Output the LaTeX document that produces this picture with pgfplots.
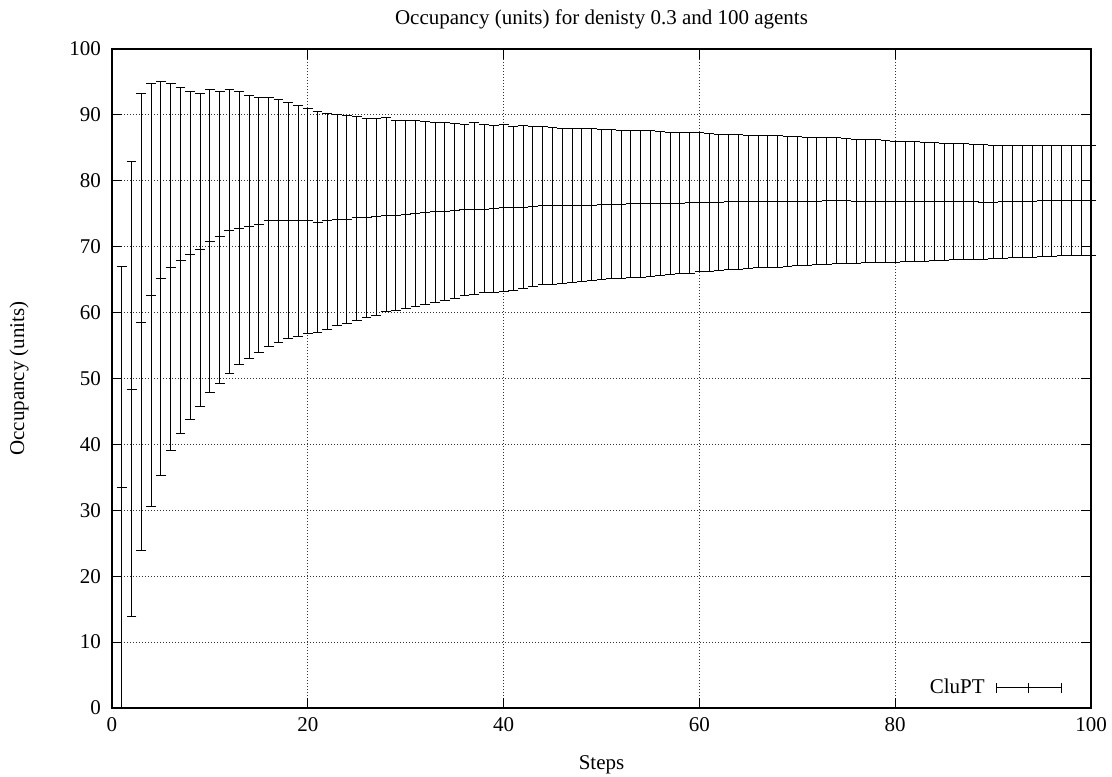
\documentclass[border=0pt]{standalone}
\usepackage{fontspec}
\setmainfont{Liberation Serif}
\usepackage{pgfplots}
\usepackage{pgfplotstable}
\pgfplotsset{compat=1.18}
\pgfplotstableread{
x m lo hi
1 33.5 0.0 67.0
2 48.4 13.9 82.9
3 58.5 23.9 93.2
4 62.6 30.6 94.7
5 65.2 35.3 95.0
6 66.9 39.0 94.7
7 67.9 41.7 94.2
8 68.8 43.8 93.6
9 69.5 45.8 93.2
10 70.8 47.9 93.8
11 71.5 49.3 93.6
12 72.4 50.8 93.8
13 72.7 52.1 93.5
14 73.1 53.0 93.0
15 73.4 53.9 92.7
16 74.0 54.9 92.7
17 74.0 55.4 92.3
18 74.0 56.0 91.9
19 74.0 56.4 91.5
20 74.0 56.8 91.0
21 73.7 57.0 90.45
22 73.9 57.5 90.2
23 74.1 58.0 90.0
24 74.2 58.4 89.9
25 74.4 58.8 89.8
26 74.5 59.2 89.5
27 74.6 59.6 89.4
28 74.8 60.1 89.6
29 74.8 60.3 89.2
30 74.9 60.6 89.1
31 75.0 61.0 89.2
32 75.2 61.3 89.0
33 75.3 61.5 88.9
34 75.4 61.8 88.8
35 75.5 62.2 88.7
36 75.6 62.6 88.6
37 75.6 62.8 88.8
38 75.7 63.0 88.5
39 75.8 63.1 88.4
40 75.9 63.2 88.5
41 75.9 63.4 88.3
42 76.0 63.6 88.4
43 76.1 63.9 88.3
44 76.2 64.2 88.2
45 76.2 64.3 88.1
46 76.2 64.4 88.0
47 76.3 64.5 88.0
48 76.3 64.7 87.9
49 76.3 64.8 87.9
50 76.4 65.0 87.8
51 76.4 65.1 87.8
52 76.4 65.2 87.7
53 76.5 65.3 87.7
54 76.5 65.4 87.6
55 76.5 65.5 87.6
56 76.6 65.7 87.5
57 76.6 65.8 87.4
58 76.6 65.9 87.4
59 76.7 66.0 87.3
60 76.7 66.2 87.3
61 76.7 66.3 87.2
62 76.7 66.4 87.1
63 76.8 66.5 87.0
64 76.8 66.6 87.0
65 76.8 66.7 86.9
66 76.9 66.8 86.9
67 76.8 66.8 86.8
68 76.8 66.9 86.8
69 76.9 67.0 86.7
70 76.9 67.1 86.7
71 76.9 67.2 86.6
72 76.9 67.3 86.6
73 77.0 67.3 86.5
74 77.0 67.4 86.5
75 77.0 67.5 86.4
76 76.9 67.5 86.3
77 76.9 67.6 86.3
78 76.9 67.6 86.2
79 76.9 67.6 86.1
80 76.9 67.6 86.0
81 76.9 67.7 85.9
82 76.9 67.8 85.9
83 76.9 67.8 85.8
84 76.9 67.9 85.8
85 76.9 67.9 85.7
86 76.9 68.0 85.6
87 76.8 68.0 85.6
88 76.8 68.0 85.5
89 76.7 68.1 85.5
90 76.7 68.2 85.4
91 76.8 68.2 85.4
92 76.8 68.3 85.4
93 76.9 68.4 85.4
94 76.9 68.4 85.4
95 77.0 68.5 85.4
96 77.0 68.5 85.3
97 77.0 68.6 85.3
98 77.0 68.6 85.3
99 77.0 68.7 85.3
100 77.0 68.7 85.3
}\datatable
\begin{document}
\begin{tikzpicture}
\useasboundingbox (-56pt,-34pt) rectangle (500pt,354pt);
\begin{axis}[
  at={(0,0)}, anchor=south west,
  scale only axis,
  width=489.5pt, height=329.5pt,
  xmin=0, xmax=100, ymin=0, ymax=100,
  xtick={0,20,...,100}, ytick={0,10,...,100},
  tick align=inside, tick pos=both,
  major tick length=5pt,
  tick style={black, line width=0.6pt},
  axis line style={line width=1pt},
  grid=major,
  grid style={black!80, line width=0.5pt, dash pattern=on 0.5pt off 1pt},
  clip=false,
  /pgf/number format/assume math mode=true,
  tick label style={font=\fontsize{10.5}{12.6}\selectfont},
  xticklabel style={yshift=-1pt},
  yticklabel style={xshift=-2pt},
  label style={font=\fontsize{10.5}{12.6}\selectfont},
  title style={font=\fontsize{10.5}{12.6}\selectfont, yshift=0.5pt},
  title={Occupancy (units) for denisty 0.3 and 100 agents},
  xlabel={Steps},
  ylabel={Occupancy (units)},
  xlabel style={yshift=-5.5pt},
  ylabel style={yshift=13.5pt},
  legend plot pos=right,
  legend style={draw=none, fill=none, at={(1,0)}, anchor=south east,
    xshift=-14.5pt, yshift=3.5pt, inner sep=0pt,
    font=\fontsize{10.5}{12.6}\selectfont},
  legend image code/.code={
    \path (0pt,0pt);
    \draw[line width=0.5pt] (3.5pt,0pt) -- (36pt,0pt);
    \draw[line width=0.5pt] (3.5pt,-2.5pt) -- (3.5pt,2.5pt);
    \draw[line width=0.5pt] (36pt,-2.5pt) -- (36pt,2.5pt);
    \draw[line width=0.5pt] (19.5pt,-2.5pt) -- (19.5pt,2.5pt);
  },
]
\addplot[black, only marks, mark=+, mark size=2.5pt, line width=0.5pt,
  mark options={line width=0.5pt},
  error bars/.cd, y dir=both, y explicit,
  error bar style={line width=0.5pt, black},
  error mark options={black, line width=0.5pt, mark size=2.45pt, rotate=90}]
  table[x=x, y=m,
    y error plus expr=\thisrow{hi}-\thisrow{m},
    y error minus expr=\thisrow{m}-\thisrow{lo}] {\datatable};
\addlegendentry{CluPT}
\end{axis}
\end{tikzpicture}
\end{document}
